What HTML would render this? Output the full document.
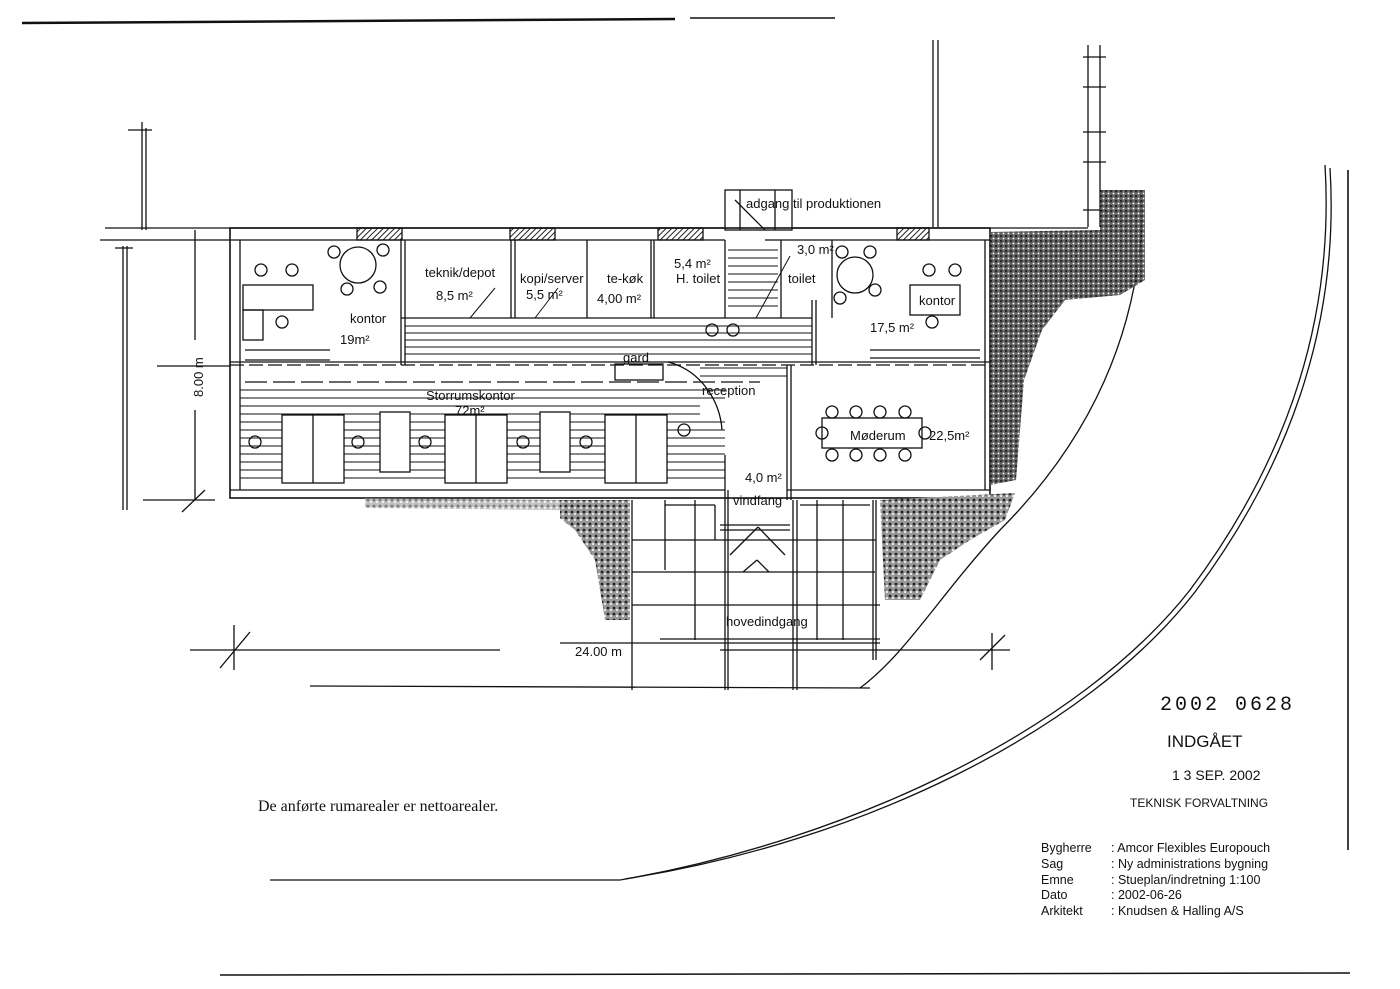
<!DOCTYPE html>
<html><head><meta charset="utf-8"><style>
html,body{margin:0;padding:0;background:#fff}
svg{display:block}
text{font-family:"Liberation Sans",sans-serif;fill:#111}
</style></head><body>
<svg width="1400" height="989" viewBox="0 0 1400 989" xmlns="http://www.w3.org/2000/svg">
<defs>
<pattern id="hat" width="4" height="4" patternUnits="userSpaceOnUse" patternTransform="rotate(45)"><line x1="0" y1="0" x2="0" y2="4" stroke="#222" stroke-width="2"/></pattern>
<pattern id="st" width="5" height="5" patternUnits="userSpaceOnUse"><rect width="5" height="5" fill="#555"/><circle cx="1" cy="1" r="1.3" fill="#111"/><circle cx="3.5" cy="3.5" r="0.9" fill="#fff"/></pattern>
<pattern id="st2" width="6" height="6" patternUnits="userSpaceOnUse"><rect width="6" height="6" fill="#999"/><circle cx="2" cy="2" r="1.4" fill="#222"/><circle cx="5" cy="4" r="1" fill="#fff"/></pattern>
</defs>
<g stroke="#111" fill="none" stroke-width="1.3">
<line x1="22" y1="23" x2="675" y2="19" stroke-width="2.5"/>
<line x1="690" y1="18" x2="835" y2="18" stroke-width="1.5"/>
<line x1="220" y1="975" x2="1350" y2="973" stroke-width="1.5"/>
<line x1="1348" y1="170" x2="1348" y2="850" stroke-width="1.6"/>
<line x1="270" y1="880" x2="620" y2="880"/>
<line x1="310" y1="686" x2="870" y2="688"/>
<path d="M1143,193 C1143,330 1090,440 1000,530 C940,595 905,655 860,688"/>
<path d="M1325,165 C1335,330 1280,470 1190,590 C1080,730 850,840 620,880"/>
<path d="M1330,168 C1340,330 1285,472 1195,592 C1085,733 860,842 625,879"/>
<line x1="933" y1="40" x2="933" y2="227"/><line x1="938" y1="40" x2="938" y2="227"/>
<line x1="1088" y1="45" x2="1088" y2="227"/><line x1="1100" y1="45" x2="1100" y2="227"/>
<line x1="1083" y1="57" x2="1106" y2="57"/><line x1="1083" y1="87" x2="1106" y2="87"/><line x1="1083" y1="132" x2="1106" y2="132"/><line x1="1083" y1="162" x2="1106" y2="162"/><line x1="1083" y1="210" x2="1106" y2="210"/>
<line x1="142" y1="122" x2="142" y2="230"/><line x1="146" y1="128" x2="146" y2="230"/><line x1="128" y1="130" x2="152" y2="130"/>
<line x1="123" y1="246" x2="123" y2="510"/><line x1="127" y1="246" x2="127" y2="510"/><line x1="115" y1="248" x2="133" y2="248"/>
<line x1="105" y1="228" x2="230" y2="228"/><line x1="100" y1="240" x2="230" y2="240"/>
<line x1="157" y1="366" x2="230" y2="366"/>
<line x1="195" y1="230" x2="195" y2="340"/><line x1="195" y1="410" x2="195" y2="500"/>
<line x1="143" y1="500" x2="215" y2="500"/><line x1="182" y1="512" x2="205" y2="490"/>
<line x1="190" y1="650" x2="500" y2="650"/><line x1="720" y1="650" x2="1010" y2="650"/>
<line x1="234" y1="625" x2="234" y2="670"/><line x1="220" y1="668" x2="250" y2="632"/>
<line x1="992" y1="633" x2="992" y2="670"/><line x1="980" y1="660" x2="1005" y2="635"/>
<line x1="560" y1="643" x2="880" y2="643"/>
<path d="M230,228 H725 M792,228 H1088 M230,240 H725 M765,240 H990" />
<rect x="230" y="228" width="760" height="270" stroke-width="1.6"/>
<line x1="240" y1="240" x2="240" y2="490"/><line x1="985" y1="240" x2="985" y2="490"/>
<line x1="230" y1="490" x2="725" y2="490"/><line x1="787" y1="490" x2="990" y2="490"/>
<rect x="357" y="228" width="45" height="12" fill="url(#hat)"/>
<rect x="510" y="228" width="45" height="12" fill="url(#hat)"/>
<rect x="658" y="228" width="45" height="12" fill="url(#hat)"/>
<rect x="897" y="228" width="32" height="12" fill="url(#hat)"/>
<rect x="725" y="190" width="67" height="40"/>
<line x1="740" y1="190" x2="740" y2="230"/><line x1="775" y1="190" x2="775" y2="230"/>
<line x1="735" y1="200" x2="765" y2="230"/>
<line x1="401" y1="240" x2="401" y2="365"/><line x1="405" y1="240" x2="405" y2="365"/>
<line x1="511" y1="240" x2="511" y2="318"/><line x1="515" y1="240" x2="515" y2="318"/>
<line x1="587" y1="240" x2="587" y2="318"/>
<line x1="651" y1="240" x2="651" y2="318"/><line x1="654" y1="240" x2="654" y2="318"/>
<line x1="725" y1="240" x2="725" y2="318"/><line x1="781" y1="240" x2="781" y2="318"/>
<line x1="832" y1="240" x2="832" y2="318"/>
<line x1="812" y1="300" x2="812" y2="365"/><line x1="816" y1="300" x2="816" y2="365"/>
<line x1="401" y1="318" x2="812" y2="318"/>
<g stroke-width="1">
<line x1="405" y1="326" x2="812" y2="326"/><line x1="405" y1="333" x2="812" y2="333"/><line x1="405" y1="340" x2="812" y2="340"/><line x1="405" y1="347" x2="812" y2="347"/><line x1="405" y1="354" x2="812" y2="354"/>
<line x1="728" y1="250" x2="778" y2="250"/><line x1="728" y1="258" x2="778" y2="258"/><line x1="728" y1="266" x2="778" y2="266"/><line x1="728" y1="274" x2="778" y2="274"/><line x1="728" y1="282" x2="778" y2="282"/><line x1="728" y1="290" x2="778" y2="290"/><line x1="728" y1="298" x2="778" y2="298"/><line x1="728" y1="306" x2="778" y2="306"/>
<line x1="756" y1="318" x2="790" y2="256"/>
<line x1="470" y1="318" x2="495" y2="288"/><line x1="535" y1="318" x2="558" y2="288"/>
</g>
<line x1="230" y1="365" x2="990" y2="365" stroke-dasharray="14,5"/>
<line x1="230" y1="362" x2="990" y2="362"/>
<line x1="245" y1="382" x2="760" y2="382" stroke-dasharray="22,6"/>
<g stroke-width="1">
<line x1="240" y1="390" x2="725" y2="390"/><line x1="240" y1="398" x2="725" y2="398"/><line x1="240" y1="406" x2="700" y2="406"/><line x1="240" y1="414" x2="700" y2="414"/>
<line x1="240" y1="422" x2="725" y2="422"/><line x1="240" y1="430" x2="725" y2="430"/><line x1="240" y1="438" x2="725" y2="438"/><line x1="240" y1="446" x2="725" y2="446"/><line x1="240" y1="454" x2="725" y2="454"/><line x1="240" y1="462" x2="725" y2="462"/><line x1="240" y1="470" x2="725" y2="470"/><line x1="240" y1="478" x2="725" y2="478"/>
<line x1="700" y1="368" x2="787" y2="368"/><line x1="700" y1="376" x2="787" y2="376"/>
</g>
<g fill="#fff">
<rect x="282" y="415" width="62" height="68"/><line x1="313" y1="415" x2="313" y2="483"/>
<rect x="445" y="415" width="62" height="68"/><line x1="476" y1="415" x2="476" y2="483"/>
<rect x="605" y="415" width="62" height="68"/><line x1="636" y1="415" x2="636" y2="483"/>
<rect x="380" y="412" width="30" height="60"/><rect x="540" y="412" width="30" height="60"/>
</g>
<rect x="243" y="285" width="70" height="25"/><rect x="243" y="310" width="20" height="30"/>
<line x1="245" y1="350" x2="330" y2="350"/><line x1="245" y1="360" x2="330" y2="360"/>
<circle cx="358" cy="265" r="18"/><circle cx="334" cy="252" r="6"/><circle cx="383" cy="250" r="6"/><circle cx="347" cy="289" r="6"/><circle cx="380" cy="287" r="6"/>
<circle cx="261" cy="270" r="6"/><circle cx="292" cy="270" r="6"/><circle cx="282" cy="322" r="6"/>
<circle cx="855" cy="275" r="18"/><circle cx="842" cy="252" r="6"/><circle cx="870" cy="252" r="6"/><circle cx="840" cy="298" r="6"/><circle cx="875" cy="290" r="6"/>
<circle cx="929" cy="270" r="6"/><circle cx="955" cy="270" r="6"/><circle cx="932" cy="322" r="6"/>
<rect x="910" y="285" width="50" height="30"/>
<line x1="870" y1="350" x2="980" y2="350"/><line x1="870" y1="358" x2="980" y2="358"/>
<rect x="822" y="418" width="100" height="30"/>
<circle cx="832" cy="412" r="6"/><circle cx="856" cy="412" r="6"/><circle cx="880" cy="412" r="6"/><circle cx="905" cy="412" r="6"/>
<circle cx="832" cy="455" r="6"/><circle cx="856" cy="455" r="6"/><circle cx="880" cy="455" r="6"/><circle cx="905" cy="455" r="6"/>
<circle cx="822" cy="433" r="6"/><circle cx="925" cy="433" r="6"/>
<line x1="787" y1="365" x2="787" y2="500"/><line x1="791" y1="365" x2="791" y2="500"/>
<path d="M668,362 C700,370 720,400 722,430"/>
<rect x="615" y="364" width="48" height="16"/>
<circle cx="255" cy="442" r="6"/><circle cx="358" cy="442" r="6"/><circle cx="425" cy="442" r="6"/><circle cx="523" cy="442" r="6"/><circle cx="586" cy="442" r="6"/><circle cx="684" cy="430" r="6"/>
<circle cx="712" cy="330" r="6"/><circle cx="733" cy="330" r="6"/>
<line x1="725" y1="455" x2="725" y2="690"/><line x1="728" y1="490" x2="728" y2="690"/>
<line x1="793" y1="500" x2="793" y2="690"/><line x1="797" y1="500" x2="797" y2="690"/>
<line x1="632" y1="500" x2="632" y2="690"/><line x1="876" y1="500" x2="876" y2="660"/><line x1="873" y1="500" x2="873" y2="660"/>
<line x1="665" y1="500" x2="665" y2="570"/><line x1="695" y1="500" x2="695" y2="640"/>
<line x1="817" y1="500" x2="817" y2="640"/><line x1="843" y1="500" x2="843" y2="640"/>
<line x1="632" y1="540" x2="876" y2="540"/><line x1="632" y1="572" x2="875" y2="572"/><line x1="632" y1="605" x2="880" y2="605"/>
<line x1="660" y1="639" x2="880" y2="639"/>
<line x1="730" y1="555" x2="758" y2="527" /><line x1="758" y1="527" x2="785" y2="555"/>
<line x1="743" y1="572" x2="757" y2="560"/><line x1="757" y1="560" x2="769" y2="572"/>
<line x1="720" y1="525" x2="790" y2="525"/><line x1="720" y1="530" x2="790" y2="530"/>
<line x1="665" y1="505" x2="715" y2="505"/><line x1="715" y1="505" x2="715" y2="540"/>
<line x1="800" y1="505" x2="870" y2="505"/>
</g>
<path d="M990,232 L1100,230 L1100,190 L1145,190 L1145,280 L1120,295 L1065,300 L1042,330 L1024,380 L1016,480 L990,485 Z" fill="url(#st)" opacity="0.9"/>
<path d="M560,500 L630,500 L630,620 L605,620 L595,560 L575,530 L560,518 Z" fill="url(#st2)"/>
<path d="M880,500 L1015,493 L1005,520 L970,540 L940,560 L920,600 L885,600 Z" fill="url(#st2)"/>
<path d="M365,498 L560,500 L560,510 L365,508 Z" fill="url(#st2)" opacity="0.6"/>
<g font-size="13">
<text x="746" y="208">adgang til produktionen</text>
<text x="425" y="277">teknik/depot</text>
<text x="436" y="300">8,5 m²</text>
<text x="520" y="283">kopi/server</text>
<text x="526" y="299">5,5 m²</text>
<text x="607" y="283">te-køk</text>
<text x="597" y="303">4,00 m²</text>
<text x="674" y="268">5,4 m²</text>
<text x="676" y="283">H. toilet</text>
<text x="797" y="254">3,0 m²</text>
<text x="788" y="283">toilet</text>
<text x="350" y="323">kontor</text>
<text x="340" y="344">19m²</text>
<text x="919" y="305">kontor</text>
<text x="870" y="332">17,5 m²</text>
<text x="623" y="362">gard</text>
<text x="702" y="395">reception</text>
<text x="426" y="400">Storrumskontor</text>
<text x="455" y="415">72m²</text>
<text x="850" y="440">Møderum</text>
<text x="929" y="440">22,5m²</text>
<text x="745" y="482">4,0 m²</text>
<text x="733" y="505">vindfang</text>
<text x="726" y="626">hovedindgang</text>
<text x="575" y="656">24.00 m</text>
<text x="0" y="0" transform="translate(203,397) rotate(-90)">8.00 m</text>
</g>
<text x="258" y="811" font-size="16" style="font-family:'Liberation Serif',serif">De anførte rumarealer er nettoarealer.</text>
<text x="1160" y="710" font-size="20" style="font-family:'Liberation Mono',monospace;letter-spacing:3px" fill="#444">2002 0628</text>
<text x="1167" y="747" font-size="17" fill="#999">INDGÅET</text>
<text x="1172" y="780" font-size="14" fill="#333">1 3 SEP. 2002</text>
<text x="1130" y="807" font-size="12" fill="#888">TEKNISK FORVALTNING</text>
<g font-size="12.5">
<text x="1041" y="852">Bygherre</text><text x="1111" y="852">: Amcor  Flexibles Europouch</text>
<text x="1041" y="868">Sag</text><text x="1111" y="868">: Ny administrations bygning</text>
<text x="1041" y="884">Emne</text><text x="1111" y="884">: Stueplan/indretning    1:100</text>
<text x="1041" y="899">Dato</text><text x="1111" y="899">: 2002-06-26</text>
<text x="1041" y="915">Arkitekt</text><text x="1111" y="915">: Knudsen &amp; Halling A/S</text>
</g>
</svg>
</body></html>
